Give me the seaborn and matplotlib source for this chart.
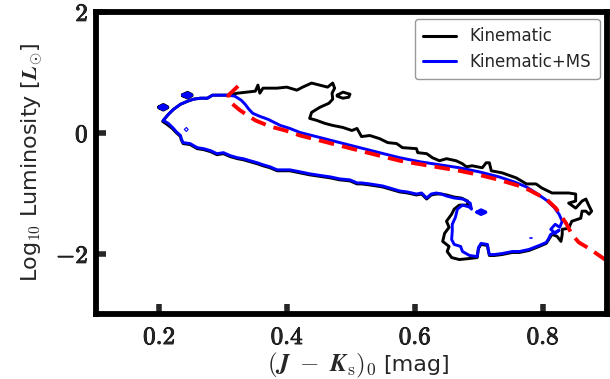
import numpy as np
import pandas as pd
import matplotlib
matplotlib.use("Agg")
import matplotlib.pyplot as plt
import matplotlib.patheffects as pe
import seaborn as sns
from matplotlib.lines import Line2D

# ---------------- data ----------------
# Kinematic+MS contour (closed path): colour (J-Ks)_0, log10 L
kinms_x = [0.206, 0.214, 0.222, 0.233, 0.244, 0.253, 0.264, 0.275, 0.283, 0.295, 0.308, 0.318,
           0.328, 0.334, 0.340, 0.346, 0.357, 0.370, 0.389, 0.404, 0.420, 0.451, 0.482, 0.513,
           0.544, 0.576, 0.607, 0.638, 0.669, 0.700, 0.731, 0.755, 0.774, 0.789, 0.805, 0.817,
           0.825, 0.830, 0.826, 0.819, 0.812, 0.819, 0.825, 0.812, 0.808, 0.805, 0.794, 0.778,
           0.763, 0.752, 0.736, 0.724, 0.716, 0.714, 0.713, 0.703, 0.699, 0.697, 0.685, 0.674,
           0.671, 0.661, 0.657, 0.658, 0.658, 0.663, 0.666, 0.674, 0.685, 0.688, 0.686, 0.675,
           0.661, 0.649, 0.641, 0.633, 0.625, 0.618, 0.610, 0.602, 0.588, 0.576, 0.560, 0.549,
           0.529, 0.516, 0.509, 0.498, 0.482, 0.467, 0.456, 0.435, 0.420, 0.404, 0.393, 0.384,
           0.373, 0.362, 0.353, 0.342, 0.331, 0.322, 0.311, 0.300, 0.290, 0.280, 0.269, 0.259,
           0.248, 0.237, 0.234, 0.233, 0.226, 0.222, 0.214, 0.206]
kinms_y = [0.200, 0.300, 0.383, 0.467, 0.517, 0.550, 0.567, 0.567, 0.617, 0.617, 0.617, 0.600,
           0.533, 0.467, 0.383, 0.317, 0.267, 0.217, 0.117, 0.067, 0.000, -0.083, -0.167, -0.250,
           -0.333, -0.417, -0.483, -0.533, -0.583, -0.650, -0.733, -0.817, -0.900, -1.000, -1.117, -1.233,
           -1.350, -1.467, -1.567, -1.517, -1.600, -1.667, -1.617, -1.683, -1.767, -1.817, -1.867, -1.933,
           -1.967, -1.967, -2.000, -2.017, -2.017, -1.917, -1.850, -1.833, -1.900, -2.050, -2.033, -1.967,
           -1.883, -1.850, -1.767, -1.633, -1.517, -1.400, -1.267, -1.200, -1.233, -1.267, -1.167, -1.100,
           -1.083, -1.050, -1.017, -1.000, -1.017, -1.083, -1.000, -1.017, -0.983, -0.967, -0.917, -0.883,
           -0.850, -0.833, -0.833, -0.783, -0.767, -0.733, -0.717, -0.683, -0.650, -0.617, -0.617, -0.617,
           -0.567, -0.533, -0.500, -0.467, -0.433, -0.417, -0.383, -0.333, -0.350, -0.300, -0.267, -0.250,
           -0.183, -0.167, -0.100, -0.050, 0.017, 0.067, 0.150, 0.200]

# Kinematic contour (closed path)
kin_x = [0.206, 0.214, 0.222, 0.233, 0.244, 0.253, 0.264, 0.275, 0.283, 0.295, 0.308,
         0.322, 0.337, 0.350, 0.354, 0.357, 0.362, 0.384, 0.399, 0.415, 0.424, 0.438, 0.451,
         0.463, 0.471, 0.474, 0.470, 0.471, 0.465, 0.451, 0.438, 0.435, 0.446, 0.459, 0.471,
         0.487, 0.501, 0.509, 0.516, 0.529, 0.544, 0.557, 0.571, 0.580, 0.602, 0.604, 0.618,
         0.627, 0.638, 0.649, 0.664, 0.674, 0.680, 0.689, 0.705, 0.711, 0.716, 0.719, 0.736,
         0.758, 0.774, 0.789, 0.798, 0.814, 0.840, 0.851, 0.851, 0.840, 0.851, 0.861, 0.867,
         0.872, 0.876, 0.872, 0.867, 0.861, 0.859, 0.845, 0.840, 0.830, 0.830, 0.828, 0.822,
         0.814, 0.808,
         0.805, 0.794, 0.778, 0.763, 0.752, 0.736, 0.724, 0.716, 0.714, 0.713, 0.703, 0.699,
         0.697, 0.685, 0.669, 0.657, 0.650, 0.653, 0.643, 0.646, 0.653, 0.649, 0.657, 0.661,
         0.669, 0.682, 0.682, 0.672, 0.661, 0.649, 0.641,
         0.633, 0.625, 0.618, 0.610, 0.602, 0.588, 0.576, 0.560, 0.549, 0.529, 0.516, 0.509,
         0.498, 0.482, 0.467, 0.456, 0.435, 0.420, 0.404, 0.393, 0.384, 0.373, 0.362, 0.353,
         0.342, 0.331, 0.322, 0.311, 0.300, 0.290, 0.280, 0.269, 0.259, 0.248, 0.237, 0.234,
         0.233, 0.226, 0.220, 0.212, 0.205, 0.206]
kin_y = [0.200, 0.300, 0.383, 0.467, 0.517, 0.550, 0.567, 0.567, 0.617, 0.617, 0.617,
         0.650, 0.667, 0.683, 0.783, 0.650, 0.733, 0.733, 0.750, 0.700, 0.750, 0.817, 0.783,
         0.750, 0.817, 0.733, 0.650, 0.550, 0.483, 0.417, 0.333, 0.233, 0.200, 0.150, 0.117,
         0.083, 0.033, 0.067, -0.067, -0.050, -0.100, -0.167, -0.183, -0.250, -0.267, -0.333, -0.350,
         -0.417, -0.467, -0.433, -0.467, -0.517, -0.567, -0.550, -0.583, -0.500, -0.500, -0.633, -0.667,
         -0.750, -0.850, -0.850, -0.917, -1.000, -1.000, -1.017, -1.133, -1.167, -1.250, -1.133, -1.100,
         -1.217, -1.300, -1.350, -1.300, -1.300, -1.417, -1.467, -1.583, -1.600, -1.683, -1.800, -1.717,
         -1.683, -1.783,
         -1.833, -1.883, -1.950, -1.983, -1.983, -2.017, -2.033, -2.033, -1.933, -1.867, -1.850, -1.917,
         -2.067, -2.083, -2.100, -2.067, -1.967, -1.883, -1.800, -1.667, -1.567, -1.467, -1.350, -1.267,
         -1.200, -1.200, -1.133, -1.083, -1.067, -1.033, -1.017,
         -1.017, -1.033, -1.100, -1.017, -1.033, -1.000, -0.983, -0.933, -0.900, -0.867, -0.850, -0.850,
         -0.800, -0.783, -0.750, -0.733, -0.700, -0.667, -0.633, -0.633, -0.633, -0.583, -0.550, -0.517,
         -0.483, -0.450, -0.433, -0.400, -0.350, -0.367, -0.317, -0.283, -0.267, -0.200, -0.183, -0.117,
         -0.067, 0.000, 0.067, 0.133, 0.183, 0.200]

# small isolated contour islands
blob_a_x = [0.200, 0.206, 0.212, 0.206, 0.200]
blob_a_y = [0.417, 0.450, 0.417, 0.383, 0.417]
blob_b_x = [0.237, 0.244, 0.250, 0.244, 0.237]
blob_b_y = [0.617, 0.650, 0.617, 0.583, 0.617]
kin_island_x = [0.478, 0.487, 0.498, 0.496, 0.487, 0.478, 0.478]
kin_island_y = [0.617, 0.667, 0.633, 0.583, 0.567, 0.600, 0.617]
ms_ring_x = [0.239, 0.242, 0.245, 0.242, 0.239]
ms_ring_y = [0.050, 0.083, 0.050, 0.017, 0.050]
ms_blob_x = [0.697, 0.703, 0.710, 0.703, 0.697]
ms_blob_y = [-1.317, -1.283, -1.317, -1.350, -1.317]
ms_dot_x = [0.780, 0.783]
ms_dot_y = [-1.750, -1.750]

# red dashed sequence line
seq_x = [0.323, 0.308, 0.309, 0.326, 0.350, 0.373, 0.397, 0.420, 0.451, 0.482, 0.513, 0.544,
         0.576, 0.622, 0.669, 0.700, 0.731, 0.763, 0.778, 0.805, 0.820, 0.836, 0.845, 0.856,
         0.872, 0.897]
seq_y = [0.767, 0.617, 0.517, 0.367, 0.200, 0.100, 0.033, -0.050, -0.133, -0.217, -0.300, -0.383,
         -0.467, -0.550, -0.633, -0.700, -0.783, -0.883, -0.950, -1.100, -1.250, -1.500, -1.683, -1.817,
         -1.917, -2.100]

xticks = [0.2, 0.4, 0.6, 0.8]
xtick_labels = ["0.2", "0.4", "0.6", "0.8"]
yticks = [-2, 0, 2]
ytick_labels = ["-2", "0", "2"]
legend_labels = ["Kinematic", "Kinematic+MS"]

# ---------------- plotting ----------------
sns.set_theme(style="white")
plt.rcParams["font.family"] = ["DejaVu Sans"]
plt.rcParams["mathtext.fontset"] = "cm"

fig = plt.figure(figsize=(6.1, 3.79), dpi=100)
ax = fig.add_axes([95.5 / 610, 1 - 314 / 379, 511.5 / 610, 302.5 / 379])


def draw(xs, ys, color, lw, **kw):
    df = pd.DataFrame({"x": xs, "y": ys})
    sns.lineplot(data=df, x="x", y="y", sort=False, estimator=None,
                 color=color, lw=lw, ax=ax, **kw)


KLW = 2.1
draw(kin_x, kin_y, "black", KLW)
draw(kin_island_x, kin_island_y, "black", KLW)
draw(blob_a_x, blob_a_y, "black", 3.2)
draw(blob_b_x, blob_b_y, "black", 3.2)

draw(kinms_x, kinms_y, "blue", KLW)
draw(blob_a_x, blob_a_y, "blue", 2.4)
draw(blob_b_x, blob_b_y, "blue", 2.4)
draw(ms_ring_x, ms_ring_y, "blue", 0.8)
draw(ms_blob_x, ms_blob_y, "blue", 2.6)
draw(ms_dot_x, ms_dot_y, "blue", 1.2)

draw(seq_x, seq_y, "red", 2.8, linestyle=(0, (4.0, 2.1)))

ax.set_xlim(0.1, 0.9)
ax.set_ylim(-3, 2)

ax.set_xticks(xticks)
ax.set_xticklabels([r"$\mathbf{%s}$" % t for t in xtick_labels])
ax.set_yticks(yticks)
ax.set_yticklabels([r"$\mathbf{%s}$" % t for t in ytick_labels])
ax.tick_params(axis="both", direction="in", length=7, width=4.0, labelsize=18,
               bottom=True, left=True, top=False, right=False)
ax.tick_params(axis="x", pad=8)
ax.tick_params(axis="y", pad=5)
for lab in ax.get_xticklabels() + ax.get_yticklabels():
    lab.set_path_effects([pe.withStroke(linewidth=0.6, foreground="black")])

for s in ax.spines.values():
    s.set_linewidth(4.2)
    s.set_color("black")
    s.set_visible(True)

# x label: larger math part followed by the unit in the sans font
ax.set_xlabel(r"$(\boldsymbol{J}\;-\;\boldsymbol{K}_{\rm s})_0$", fontsize=18)
ax.xaxis.label.set_ha("right")
ax.xaxis.label.set_va("baseline")
ax.xaxis.set_label_coords((377 - 95.5) / 511.5, -(371 - 314) / 302.5)
ax.text((383 - 95.5) / 511.5, -(371 - 314) / 302.5, "[mag]", transform=ax.transAxes,
        ha="left", va="baseline", fontsize=16)

ax.set_ylabel(r"Log$_{10}$ Luminosity [$\boldsymbol{L}_{\odot}$]", fontsize=16, labelpad=8)

handles = [Line2D([], [], color="black", lw=2.2), Line2D([], [], color="blue", lw=2.2)]
leg = ax.legend(handles, legend_labels, loc="upper right", fontsize=12, frameon=True,
                fancybox=True, framealpha=1, edgecolor="#999999", handlelength=2.0,
                labelspacing=0.45, borderpad=0.5, borderaxespad=0.45)
leg.get_frame().set_linewidth(1.0)

fig.savefig("out.png", dpi=100)
